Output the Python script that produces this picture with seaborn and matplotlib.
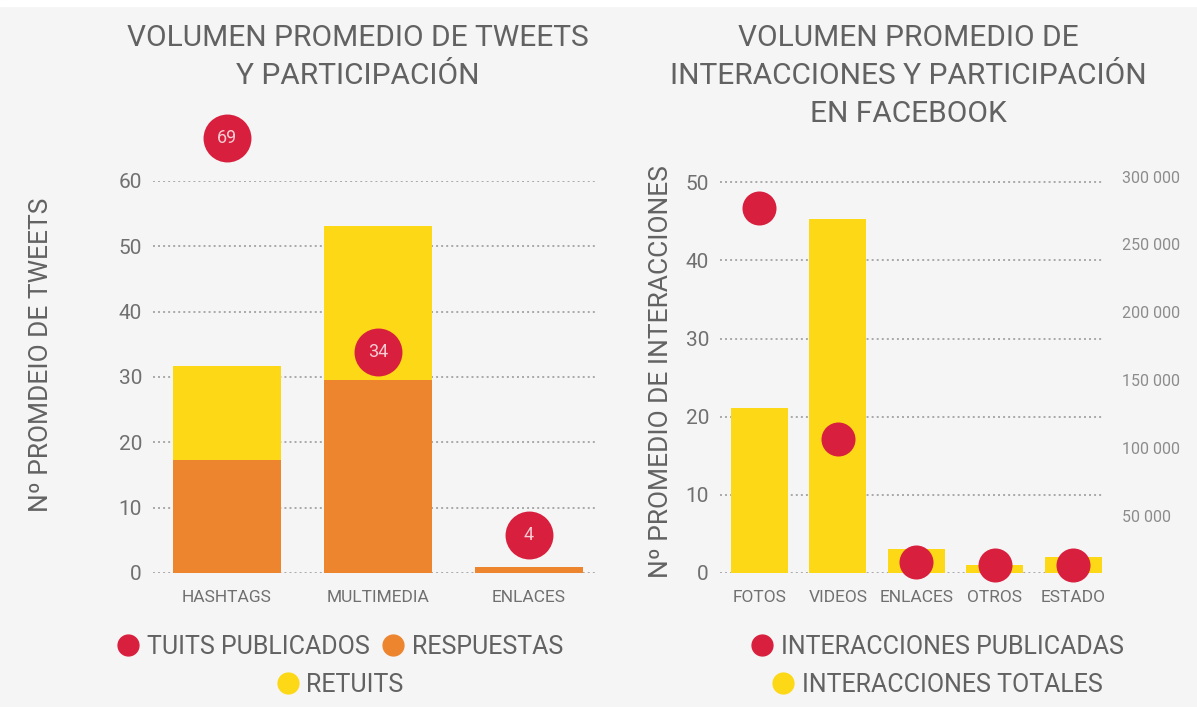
import numpy as np
import pandas as pd
import seaborn as sns
import matplotlib.pyplot as plt
from matplotlib.lines import Line2D
from matplotlib.patches import Rectangle

# twitter data
tw_cats = ['HASHTAGS', 'MULTIMEDIA', 'ENLACES']
tw_respuestas = [17.3, 29.6, 0.9]
tw_retuits = [14.4, 23.5, 0.0]
tw_publicados = [69, 34, 4]

# facebook data
fb_cats = ['FOTOS', 'VIDEOS', 'ENLACES', 'OTROS', 'ESTADO']
fb_totales = [21.1, 45.3, 3.1, 1.0, 2.0]
fb_publicadas = [277000, 107000, 16000, 14000, 14000]
fb_right_ticks = [50000, 100000, 150000, 200000, 250000, 300000]
fb_right_labels = ['50 000', '100 000', '150 000', '200 000', '250 000', '300 000']

RED = '#D81F3D'
ORANGE = '#EC852E'
YELLOW = '#FDD817'
BG = '#F5F5F5'
GREY = '#626262'
TICK = '#707070'
LIGHT = '#8C8C8C'

sns.set_theme(style='white')
plt.rcParams['font.family'] = ['Roboto', 'DejaVu Sans']

W, H = 1197, 707
fig = plt.figure(figsize=(W / 100, H / 100), dpi=100, facecolor=BG)
fig.patches.append(Rectangle((0, 1 - 6 / H), 1, 6 / H, transform=fig.transFigure, color='white', zorder=0))


def style_axis(ax):
    for s in ax.spines.values():
        s.set_visible(False)
    ax.set_facecolor('none')
    ax.yaxis.grid(True, linestyle=(0, (1, 1.6)), color='#A8A8A8', lw=1.4)
    ax.xaxis.grid(False)
    ax.set_axisbelow(True)
    ax.set_xlabel('')
    ax.set_ylabel('')


bar_kw = dict(saturation=1, linewidth=0, edgecolor='none', zorder=2)

# ---------- left: twitter ----------
df_tw = pd.DataFrame({'cat': tw_cats,
                      'resp': tw_respuestas,
                      'total': np.add(tw_respuestas, tw_retuits),
                      'pub': tw_publicados,
                      'pos': np.arange(len(tw_cats))})

ax1 = fig.add_axes([153 / W, 1 - 573 / H, (597 - 153) / W, (573 - 181) / H])
sns.barplot(data=df_tw, x='cat', y='total', color=YELLOW, width=0.715, ax=ax1, **bar_kw)
sns.barplot(data=df_tw, x='cat', y='resp', color=ORANGE, width=0.715, ax=ax1, **bar_kw)
style_axis(ax1)
ax1.set_ylim(0, 60)
ax1.set_yticks(range(0, 61, 10))
ax1.tick_params(axis='y', length=0, pad=8, labelsize=15, labelcolor=TICK)
ax1.tick_params(axis='x', length=0, pad=12, labelsize=12.5, labelcolor=TICK)

axb = ax1.twinx()
sns.scatterplot(data=df_tw, x='pos', y='pub', s=1190, color=RED, linewidth=0, ax=axb,
                legend=False, clip_on=False, zorder=5)
for _, r in df_tw.iterrows():
    axb.text(r['pos'], r['pub'], str(r['pub']), ha='center', va='center',
             color='#F5CCD3', fontsize=13, zorder=6)
axb.set_ylim(-2.3, 62.0)
axb.set_axis_off()
ax1.set_xlim(-0.49, 2.45)

# ---------- right: facebook ----------
df_fb = pd.DataFrame({'cat': fb_cats,
                      'tot': fb_totales,
                      'pub': fb_publicadas,
                      'pos': np.arange(len(fb_cats))})

ax2 = fig.add_axes([720 / W, 1 - 573 / H, (1104 - 720) / W, (573 - 176) / H])
sns.barplot(data=df_fb, x='cat', y='tot', color=YELLOW, width=0.725, ax=ax2, **bar_kw)
style_axis(ax2)
ax2.set_ylim(0, 50.8)
ax2.set_yticks(range(0, 51, 10))
ax2.tick_params(axis='y', length=0, pad=8, labelsize=15, labelcolor=TICK)
ax2.tick_params(axis='x', length=0, pad=12, labelsize=12.5, labelcolor=TICK)

axr = ax2.twinx()
sns.scatterplot(data=df_fb, x='pos', y='pub', s=600, color=RED, linewidth=0, ax=axr,
                legend=False, clip_on=False, zorder=5)
axr.set_ylim(8026, 300370)
axr.set_yticks(fb_right_ticks)
axr.set_yticklabels(fb_right_labels)
axr.set_ylabel('')
for s in axr.spines.values():
    s.set_visible(False)
axr.tick_params(axis='y', length=0, pad=13, labelsize=11.5, labelcolor=LIGHT)
ax2.set_xlim(-0.5, 4.39)

# ---------- titles and axis labels ----------
title_kw = dict(ha='center', va='top', fontsize=21.5, color=GREY, linespacing=1.45)
fig.text(358 / W, 1 - 24 / H, 'VOLUMEN PROMEDIO DE TWEETS\nY PARTICIPACIÓN', **title_kw)
fig.text(908 / W, 1 - 24 / H, 'VOLUMEN PROMEDIO DE\nINTERACCIONES Y PARTICIPACIÓN\nEN FACEBOOK', **title_kw)
fig.text(41 / W, 1 - 355 / H, 'Nº PROMDEIO DE TWEETS', rotation=90, ha='center', va='center',
         fontsize=19, color=GREY)
fig.text(661 / W, 1 - 372 / H, 'Nº PROMEDIO DE INTERACCIONES', rotation=90, ha='center', va='center',
         fontsize=19, color=GREY)


# ---------- legends ----------
def dot(c):
    return Line2D([], [], marker='o', ls='', color=c, markersize=15)


leg_kw = dict(loc='center', frameon=False, fontsize=18, handletextpad=0.3, columnspacing=0.5,
              handlelength=0.9, labelcolor=GREY)
fig.legend([dot(RED), dot(ORANGE)], ['TUITS PUBLICADOS', 'RESPUESTAS'], ncol=2,
           bbox_to_anchor=(340 / W, 1 - 647 / H), **leg_kw)
fig.legend([dot(YELLOW)], ['RETUITS'], bbox_to_anchor=(340 / W, 1 - 685 / H), **leg_kw)
fig.legend([dot(RED)], ['INTERACCIONES PUBLICADAS'], bbox_to_anchor=(937 / W, 1 - 647 / H), **leg_kw)
fig.legend([dot(YELLOW)], ['INTERACCIONES TOTALES'], bbox_to_anchor=(937 / W, 1 - 685 / H), **leg_kw)

fig.savefig('out.png', dpi=100, facecolor=BG)
